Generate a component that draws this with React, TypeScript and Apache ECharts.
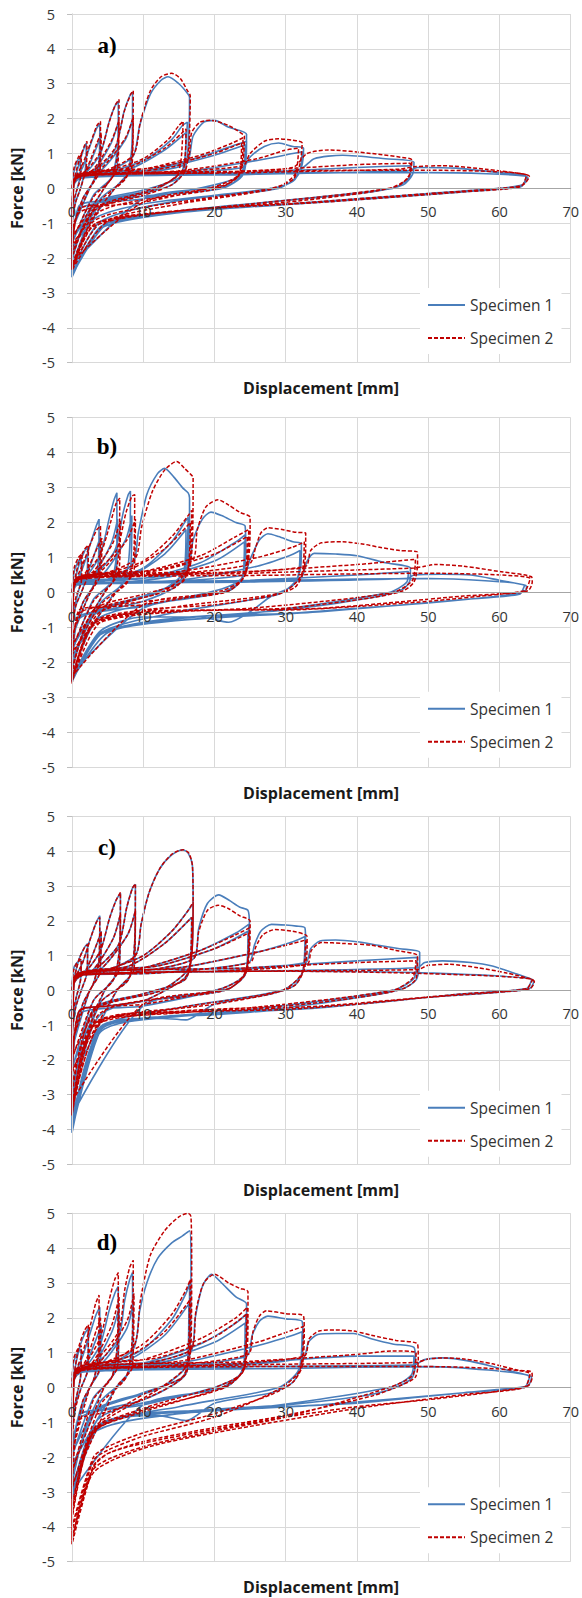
import React, { useEffect, useRef } from "react";
import * as echarts from "echarts";

const PANEL_LABELS = ["a)", "b)", "c)", "d)"];
const SERIES_NAMES = ["Specimen 1", "Specimen 2"];
const X_TITLE = "Displacement [mm]";
const Y_TITLE = "Force [kN]";

// Panel a) – Specimen 1
const A1: number[][] = [
  [0,0],[0.3,0.5],[0.8,0.8],[1.2,0.9],[1.1,0.3],[0.6,-0.1],[0,-0.6],
  [0.2,0.1],[1,0.7],[1.6,1.1],[2,1.3],[1.9,0.6],[1.2,0],[0.5,-0.4],[0,-1.0],
  [0.2,0.1],[1.5,0.6],[2.5,1.2],[3.4,1.7],[3.9,1.85],[3.8,0.8],[3,0.2],[1.5,-0.3],[0,-1.3],
  [0.3,0.1],[2,0.5],[3.5,1.2],[4,1.5],[3.8,0.5],[2.5,0],[0,-1.2],
  [0.3,0.15],[2,0.45],[4,1.0],[5.2,1.9],[6,2.35],[6.5,2.5],[6.4,1.2],[5.5,0.3],[3,-0.2],[0,-1.6],
  [0.3,0.15],[3,0.5],[5.5,1.3],[6.5,1.9],[6.3,0.6],[4.5,0],[0,-1.5],
  [0.3,0.2],[3,0.45],[6,1.1],[7.3,2.2],[8.2,2.7],[8.5,2.75],[8.4,1.2],[7.5,0.3],[4,-0.3],[0,-1.8],
  [0.3,0.2],[4,0.5],[7.5,1.4],[8.5,2.0],[8.3,0.6],[6,0],[0,-1.7],
  [0.3,0.2],[4,0.4],[8.5,0.9],[9.5,1.8],[11,2.7],[12.5,3.1],[13.5,3.2],[15,3.0],[16.3,2.7],[16.5,2.6],[16.3,1.2],[15.8,0.5],[14,0.1],[10,-0.15],[5,-0.35],[1,-0.5],[0,-2.0],
  [0.3,0.2],[5,0.45],[10,0.8],[14,1.4],[15.5,1.8],[16.2,1.9],[15.8,0.8],[15,0.3],[10,-0.05],[3,-0.45],[0,-2.0],
  [0.3,0.2],[8,0.55],[13,1.1],[16,1.6],[15.7,0.6],[12,0],[3,-0.5],[0,-2.1],
  [0.4,0.25],[8,0.4],[16,0.7],[17,1.5],[18.5,1.9],[20,1.95],[22,1.75],[24.5,1.55],[24.3,0.8],[23.5,0.35],[20,0.1],[10,-0.3],[1,-0.6],[0,-2.2],
  [0.4,0.25],[10,0.5],[18,0.9],[23,1.25],[24.5,1.35],[24.2,0.5],[22,0.1],[10,-0.3],[0,-2.2],
  [0.4,0.25],[12,0.55],[20,0.95],[24.3,1.25],[24,0.4],[21,0],[4,-0.5],[0,-2.3],
  [0.4,0.25],[12,0.4],[24,0.6],[25,0.9],[27,1.2],[29,1.3],[31,1.2],[32.5,1.15],[32.2,0.6],[31,0.2],[28,0],[20,-0.2],[10,-0.45],[3,-0.9],[0,-2.4],
  [0.4,0.25],[15,0.45],[26,0.8],[31,1.0],[32.3,1.05],[31.8,0.4],[29,0],[15,-0.35],[4,-0.95],[0,-2.4],
  [0.4,0.25],[20,0.4],[32,0.55],[34,0.85],[38,0.95],[44,0.85],[48,0.75],[47.8,0.4],[46.5,0.1],[42,-0.1],[30,-0.35],[15,-0.65],[5,-1.0],[0,-2.5],
  [0.4,0.25],[25,0.45],[40,0.6],[47.6,0.65],[47.3,0.3],[45,0],[25,-0.45],[8,-0.85],[4,-1.1],[0,-2.5],
  [0.4,0.25],[25,0.4],[47,0.5],[48.5,0.6],[54,0.58],[60,0.45],[63.5,0.38],[64,0.3],[63.2,0.1],[60,0.0],[50,-0.15],[40,-0.3],[30,-0.45],[20,-0.6],[10,-0.8],[4,-1.1],[0,-2.55],
  [0.4,0.25],[30,0.45],[50,0.45],[63.8,0.32],[63,0.05],[55,-0.1],[35,-0.4],[15,-0.7],[4,-1.15],[0,-2.5]
];

// Panel a) – Specimen 2
const A2: number[][] = [
  [0,0],[0.3,0.6],[0.9,0.9],[1.3,1.0],[1.2,0.3],[0.6,-0.1],[0,-0.5],
  [0.2,0.15],[1,0.8],[1.7,1.2],[2.1,1.35],[2,0.6],[1.2,0],[0.5,-0.4],[0,-0.9],
  [0.2,0.15],[1.5,0.7],[2.6,1.3],[3.5,1.8],[4,1.92],[3.9,0.8],[3,0.2],[1.5,-0.3],[0,-1.2],
  [0.3,0.15],[2,0.55],[3.5,1.3],[4.1,1.6],[3.9,0.5],[2.5,0],[0,-1.1],
  [0.3,0.2],[2,0.5],[4,1.05],[5.3,1.95],[6.1,2.4],[6.6,2.55],[6.5,1.2],[5.6,0.3],[3,-0.25],[0,-1.5],
  [0.3,0.2],[3,0.55],[5.5,1.35],[6.6,1.95],[6.4,0.6],[4.5,0],[0,-1.4],
  [0.3,0.2],[3,0.5],[6,1.15],[7.4,2.25],[8.3,2.72],[8.6,2.8],[8.5,1.2],[7.6,0.3],[4,-0.35],[0,-1.7],
  [0.3,0.2],[4,0.55],[7.5,1.45],[8.6,2.05],[8.4,0.6],[6,0],[0,-1.6],
  [0.3,0.25],[4,0.45],[8.6,0.95],[9.6,1.9],[11,2.8],[12.5,3.2],[14,3.3],[15.2,3.15],[16.2,2.8],[16.6,2.65],[16.4,1.2],[15.9,0.5],[14,0.1],[10,-0.2],[5,-0.45],[1,-0.6],[0,-1.9],
  [0.3,0.25],[5,0.5],[10,0.85],[13.5,1.4],[15,1.8],[15.6,1.92],[15.3,0.8],[14.5,0.3],[10,-0.1],[3,-0.6],[0,-1.9],
  [0.3,0.25],[8,0.6],[13,1.15],[16,1.7],[15.7,0.6],[12,0],[3,-0.65],[0,-2.0],
  [0.4,0.3],[8,0.45],[16,0.75],[16.8,1.6],[18,1.9],[19.5,1.95],[22,1.8],[24,1.55],[24.2,1.5],[24,0.8],[23.2,0.35],[20,0.05],[10,-0.4],[1,-0.7],[0,-2.1],
  [0.4,0.3],[10,0.55],[18,0.95],[22.5,1.3],[24,1.45],[23.8,0.5],[21.5,0.1],[10,-0.4],[0,-2.1],
  [0.4,0.3],[12,0.6],[20,1.0],[23.8,1.3],[23.5,0.4],[20.5,0],[4,-0.65],[0,-2.2],
  [0.4,0.3],[12,0.45],[24,0.65],[25,1.0],[27,1.35],[29,1.42],[31,1.38],[32.3,1.3],[32,0.7],[31,0.25],[28,0.0],[20,-0.25],[10,-0.55],[3,-0.95],[0,-2.3],
  [0.4,0.3],[15,0.5],[26,0.85],[30,1.1],[31.8,1.15],[31.3,0.4],[28.5,0],[15,-0.45],[4,-1.0],[0,-2.3],
  [0.4,0.3],[20,0.45],[31,0.6],[33,1.0],[36,1.1],[42,1.0],[47.5,0.85],[47.7,0.8],[47.4,0.4],[46,0.1],[42,-0.1],[30,-0.4],[15,-0.65],[5,-0.95],[0,-2.35],
  [0.4,0.3],[25,0.5],[40,0.68],[47.5,0.72],[47.2,0.3],[44.5,0],[25,-0.45],[8,-0.8],[3,-1.05],[0,-2.3],
  [0.4,0.3],[25,0.45],[46,0.55],[48,0.62],[52,0.65],[58,0.55],[63,0.42],[64.2,0.35],[63.3,0.1],[60,0.0],[50,-0.15],[40,-0.3],[30,-0.45],[20,-0.55],[10,-0.75],[3,-1.05],[0,-2.35],
  [0.4,0.3],[30,0.5],[50,0.52],[63.8,0.38],[63,0.05],[55,-0.1],[35,-0.4],[15,-0.65],[3,-1.1],[0,-2.3]
];

// Panel b) – Specimen 1
const B1: number[][] = [
  [0,0],[0.3,0.6],[0.9,0.9],[1.3,1.0],[1.2,0.3],[0.6,-0.2],[0,-0.7],
  [0.2,0.1],[1,0.8],[1.8,1.2],[2.2,1.3],[2.1,0.5],[1.3,0],[0.5,-0.4],[0,-1.1],
  [0.2,0.1],[1.5,0.7],[2.6,1.4],[3.4,1.9],[3.8,2.1],[3.7,0.9],[3,0.2],[1.5,-0.3],[0,-1.4],
  [0.3,0.1],[2,0.5],[3.5,1.3],[4,1.6],[3.8,0.5],[2.5,0],[0,-1.3],
  [0.3,0.15],[2,0.45],[4,1.1],[5.2,2.1],[5.9,2.65],[6.3,2.85],[6.3,1.3],[5.5,0.3],[3,-0.2],[0,-1.7],
  [0.3,0.15],[3,0.5],[5.5,1.4],[6.4,2.1],[6.2,0.6],[4.5,0],[0,-1.6],
  [0.3,0.2],[3,0.45],[6,1.2],[7.2,2.3],[7.9,2.8],[8.2,2.9],[8.1,1.3],[7.3,0.3],[4,-0.3],[0,-1.9],
  [0.3,0.2],[4,0.45],[7.5,1.5],[8.4,2.2],[8.2,0.6],[6,0],[0,-1.8],
  [0.3,0.2],[4,0.3],[8.5,0.8],[9.3,1.7],[10.5,2.8],[12,3.4],[13,3.55],[14.3,3.3],[15.5,3.0],[16.3,2.85],[16.5,2.7],[16.4,1.2],[15.9,0.5],[14,0.1],[10,-0.25],[5,-0.5],[1,-0.7],[0,-2.1],
  [0.3,0.2],[5,0.35],[10,0.7],[14,1.45],[15.8,2.0],[16.3,2.15],[16,0.8],[15,0.3],[10,-0.1],[3,-0.6],[0,-2.1],
  [0.3,0.2],[8,0.45],[13,1.1],[16,1.8],[15.7,0.6],[12,0],[3,-0.65],[0,-2.2],
  [0.4,0.2],[8,0.3],[16,0.6],[17,1.5],[18.3,2.1],[19.5,2.3],[21,2.2],[23,2.0],[24.3,1.9],[24.4,1.2],[23.8,0.4],[21,0.1],[10,-0.4],[1,-0.75],[0,-2.3],
  [0.4,0.2],[10,0.4],[18,0.85],[23,1.45],[24.3,1.65],[24.1,0.5],[22,0.05],[10,-0.45],[0,-2.3],
  [0.4,0.2],[12,0.45],[20,0.9],[24.2,1.45],[23.9,0.4],[21,0],[4,-0.7],[0,-2.4],
  [0.4,0.2],[12,0.3],[24,0.5],[25,0.95],[26.3,1.5],[27.5,1.68],[29,1.6],[31,1.45],[32.2,1.4],[32.1,0.7],[31,0.2],[28,-0.1],[25,-0.55],[22,-0.85],[18,-0.7],[10,-0.7],[4,-1.1],[0,-2.45],
  [0.4,0.2],[15,0.35],[26,0.75],[30.5,1.05],[32,1.2],[31.6,0.4],[29,-0.05],[15,-0.55],[4,-1.15],[0,-2.45],
  [0.4,0.2],[20,0.3],[32,0.4],[33,0.9],[34,1.12],[37,1.1],[40,1.05],[44,0.85],[47.5,0.7],[47.5,0.4],[46.5,0.1],[42,-0.15],[30,-0.5],[15,-0.75],[5,-1.15],[0,-2.5],
  [0.4,0.2],[25,0.35],[40,0.5],[47.2,0.6],[47,0.3],[44.5,0],[25,-0.6],[8,-0.95],[4,-1.2],[0,-2.5],
  [0.4,0.2],[25,0.3],[47,0.4],[48,0.5],[52,0.52],[56,0.5],[60,0.35],[63.7,0.2],[63.8,0.1],[63,0.0],[60,-0.1],[50,-0.3],[40,-0.45],[30,-0.6],[20,-0.65],[10,-0.85],[4,-1.2],[0,-2.55],
  [0.4,0.2],[30,0.35],[50,0.4],[63.5,0.2],[62.8,-0.05],[55,-0.2],[35,-0.55],[15,-0.8],[4,-1.2],[0,-2.5]
];

// Panel b) – Specimen 2
const B2: number[][] = [
  [0,0],[0.3,0.7],[0.9,1.0],[1.4,1.1],[1.3,0.3],[0.6,-0.1],[0,-0.6],
  [0.2,0.15],[1,0.9],[1.8,1.25],[2.3,1.35],[2.2,0.5],[1.3,0],[0.5,-0.4],[0,-1.0],
  [0.2,0.15],[1.5,0.8],[2.6,1.4],[3.5,1.8],[4,1.9],[3.9,0.8],[3.1,0.2],[1.5,-0.3],[0,-1.3],
  [0.3,0.15],[2,0.6],[3.6,1.3],[4.2,1.55],[4,0.5],[2.6,0],[0,-1.2],
  [0.3,0.2],[2,0.55],[4,1.1],[5.4,2.0],[6.2,2.55],[6.7,2.7],[6.6,1.2],[5.7,0.3],[3,-0.25],[0,-1.6],
  [0.3,0.2],[3,0.6],[5.7,1.4],[6.8,2.05],[6.6,0.6],[4.6,0],[0,-1.5],
  [0.3,0.25],[3,0.55],[6.2,1.2],[7.6,2.3],[8.4,2.75],[8.8,2.8],[8.7,1.2],[7.8,0.3],[4,-0.35],[0,-1.8],
  [0.3,0.25],[4,0.6],[7.7,1.5],[8.9,2.1],[8.7,0.6],[6.2,0],[0,-1.7],
  [0.3,0.3],[4,0.5],[8.8,0.95],[9.8,1.9],[11.3,2.9],[13,3.5],[14.7,3.75],[15.8,3.55],[16.8,3.35],[17,3.3],[16.9,1.5],[16.4,0.6],[14.5,0.15],[10,-0.15],[5,-0.4],[1,-0.5],[0,-2.2],
  [0.3,0.3],[5,0.55],[10,0.9],[14,1.6],[16.3,2.2],[16.8,2.35],[16.5,0.9],[15.5,0.3],[10,-0.05],[3,-0.5],[0,-2.2],
  [0.3,0.3],[8,0.65],[13,1.25],[16.6,2.0],[16.3,0.7],[12.5,0],[3,-0.55],[0,-2.3],
  [0.4,0.35],[8,0.5],[16.8,0.9],[17.6,1.8],[18.8,2.45],[20.5,2.65],[22,2.5],[23.5,2.3],[25,2.15],[25,1.8],[24.8,1.0],[24,0.4],[21,0.05],[10,-0.35],[1,-0.6],[0,-2.4],
  [0.4,0.35],[10,0.6],[18,1.05],[23,1.6],[24.8,1.8],[24.5,0.6],[22,0.05],[10,-0.35],[0,-2.4],
  [0.4,0.35],[12,0.65],[20,1.1],[24.6,1.6],[24.3,0.5],[21.5,0],[4,-0.55],[0,-2.45],
  [0.4,0.35],[12,0.5],[24.8,0.8],[25.8,1.3],[26.5,1.7],[27.5,1.85],[29.5,1.8],[31.5,1.72],[32.8,1.7],[32.8,1.3],[32.5,0.6],[31.3,0.15],[28,-0.1],[20,-0.35],[10,-0.5],[3,-0.85],[0,-2.5],
  [0.4,0.35],[15,0.6],[26,1.0],[31,1.3],[32.6,1.45],[32.2,0.5],[29.5,0],[15,-0.4],[3,-0.9],[0,-2.5],
  [0.4,0.35],[20,0.55],[32.8,0.75],[33.5,1.2],[35,1.42],[38,1.45],[41,1.38],[43,1.3],[46,1.2],[48.5,1.15],[48.5,0.8],[48,0.3],[46.5,0.05],[42,-0.15],[30,-0.45],[15,-0.55],[4,-0.85],[0,-2.55],
  [0.4,0.35],[25,0.6],[40,0.8],[48.2,0.95],[47.8,0.35],[45,0],[25,-0.45],[8,-0.6],[3,-0.9],[0,-2.55],
  [0.4,0.35],[25,0.55],[48,0.7],[49.5,0.75],[51,0.8],[55,0.75],[60,0.6],[64.5,0.45],[64.6,0.3],[64,0.05],[60,-0.05],[50,-0.25],[40,-0.4],[30,-0.5],[20,-0.5],[10,-0.55],[3,-0.9],[0,-2.6],
  [0.4,0.35],[30,0.5],[50,0.55],[64.3,0.4],[63.5,0.05],[55,-0.1],[35,-0.45],[15,-0.55],[3,-0.95],[0,-2.55]
];

// Panel c) – Specimen 1
const C1: number[][] = [
  [0,0],[0.2,0.6],[0.7,0.8],[1.3,0.85],[1.2,0.3],[0.6,-0.2],[0,-0.8],
  [0.2,0.2],[1,0.9],[1.8,1.25],[2.2,1.35],[2.1,0.5],[1.3,0],[0.5,-0.5],[0,-1.3],
  [0.2,0.2],[1.5,0.8],[2.6,1.5],[3.4,1.95],[3.9,2.15],[3.8,0.9],[3,0.2],[1.5,-0.4],[0,-1.8],
  [0.3,0.2],[2,0.6],[3.6,1.4],[4.1,1.7],[3.9,0.5],[2.5,0],[0,-1.7],
  [0.3,0.25],[2,0.55],[4,1.15],[5.3,2.1],[6.2,2.6],[6.8,2.8],[6.7,1.3],[5.8,0.3],[3,-0.3],[0,-2.3],
  [0.3,0.25],[3,0.6],[5.8,1.5],[6.8,2.2],[6.6,0.6],[4.6,0],[0,-2.2],
  [0.3,0.3],[3,0.55],[6.5,1.3],[7.7,2.4],[8.5,2.95],[8.9,3.05],[8.8,1.4],[7.9,0.3],[4,-0.35],[0,-2.7],
  [0.3,0.3],[4,0.6],[7.8,1.6],[8.9,2.3],[8.7,0.6],[6.3,0],[0,-2.6],
  [0.3,0.35],[4,0.5],[8.9,1.0],[9.7,1.9],[10.8,2.8],[12.3,3.5],[14,3.9],[15.5,4.05],[16.3,3.95],[16.9,3.6],[17,2.5],[16.8,1.0],[16,0.4],[14,0.1],[10,-0.3],[5,-0.45],[1,-0.6],[0,-3.0],
  [0.3,0.35],[5,0.6],[10,1.0],[14,1.7],[16.3,2.3],[17,2.5],[16.8,1.0],[15.8,0.3],[10,-0.1],[3,-0.55],[0,-3.1],
  [0.3,0.35],[8,0.7],[13,1.35],[16.8,2.1],[16.5,0.7],[12.5,0],[3,-0.6],[0,-3.3],
  [0.4,0.4],[8,0.5],[17,0.9],[17.8,1.8],[19,2.5],[20.6,2.75],[22,2.6],[23.5,2.4],[24.7,2.3],[24.9,1.9],[24.8,1.0],[24,0.4],[21,0.05],[10,-0.45],[1,-0.7],[0,-3.5],
  [0.4,0.4],[10,0.65],[18,1.15],[23,1.65],[24.8,1.9],[24.6,0.6],[22,0.05],[10,-0.45],[0,-3.6],
  [0.4,0.4],[12,0.7],[20,1.2],[24.7,1.7],[24.4,0.5],[21.5,0],[4,-0.7],[0,-3.7],
  [0.4,0.4],[12,0.5],[24.8,0.8],[25.6,1.3],[26.5,1.7],[28,1.9],[30,1.88],[31.5,1.85],[32.7,1.8],[32.8,1.3],[32.5,0.6],[31.3,0.15],[28,-0.1],[20,-0.4],[16,-0.85],[12,-0.8],[4,-1.05],[0,-3.8],
  [0.4,0.4],[15,0.65],[26,1.1],[31,1.4],[32.7,1.55],[32.3,0.5],[29.5,0],[15,-0.5],[4,-1.1],[0,-3.9],
  [0.4,0.4],[20,0.55],[32.8,0.8],[33.5,1.2],[34.8,1.42],[37,1.45],[40,1.4],[43,1.3],[46,1.2],[48.8,1.1],[48.8,0.8],[48.3,0.3],[46.5,0.05],[42,-0.15],[30,-0.5],[15,-0.75],[4,-1.1],[0,-4.0],
  [0.4,0.4],[25,0.65],[40,0.85],[48.5,0.95],[48,0.35],[45,0],[25,-0.55],[8,-0.85],[4,-1.15],[0,-4.05],
  [0.4,0.4],[25,0.55],[48.5,0.65],[49.5,0.8],[52,0.85],[56,0.8],[59,0.7],[62,0.5],[64.5,0.32],[64.8,0.25],[64.2,0.05],[60,-0.05],[50,-0.2],[40,-0.4],[30,-0.55],[20,-0.7],[10,-0.8],[4,-1.15],[0,-4.1],
  [0.4,0.4],[30,0.55],[50,0.5],[64.5,0.3],[63.8,0.05],[55,-0.1],[35,-0.5],[15,-0.75],[4,-1.2],[0,-4.0]
];

// Panel c) – Specimen 2
const C2: number[][] = [
  [0,0],[0.2,0.55],[0.7,0.8],[1.3,0.9],[1.2,0.3],[0.6,-0.2],[0,-0.7],
  [0.2,0.2],[1,0.9],[1.8,1.25],[2.2,1.32],[2.1,0.5],[1.3,0],[0.5,-0.5],[0,-1.2],
  [0.2,0.2],[1.5,0.8],[2.6,1.5],[3.4,1.95],[3.9,2.1],[3.8,0.9],[3,0.2],[1.5,-0.4],[0,-1.6],
  [0.3,0.2],[2,0.6],[3.6,1.4],[4.1,1.7],[3.9,0.5],[2.5,0],[0,-1.5],
  [0.3,0.25],[2,0.55],[4,1.15],[5.3,2.1],[6.2,2.6],[6.8,2.82],[6.7,1.3],[5.8,0.3],[3,-0.3],[0,-2.0],
  [0.3,0.25],[3,0.6],[5.8,1.5],[6.8,2.2],[6.6,0.6],[4.6,0],[0,-1.9],
  [0.3,0.3],[3,0.55],[6.5,1.3],[7.7,2.4],[8.5,2.95],[8.9,3.07],[8.8,1.4],[7.9,0.3],[4,-0.35],[0,-2.4],
  [0.3,0.3],[4,0.6],[7.8,1.6],[8.9,2.3],[8.7,0.6],[6.3,0],[0,-2.3],
  [0.3,0.35],[4,0.5],[8.9,1.0],[9.7,1.9],[10.8,2.8],[12.3,3.5],[14,3.92],[15.6,4.05],[16.4,3.95],[16.9,3.6],[17,2.5],[16.8,1.0],[16,0.4],[14,0.1],[10,-0.3],[5,-0.45],[1,-0.6],[0,-2.7],
  [0.3,0.35],[5,0.6],[10,1.0],[14,1.7],[16.3,2.3],[17,2.55],[16.8,1.0],[15.8,0.3],[10,-0.1],[3,-0.55],[0,-2.8],
  [0.3,0.35],[8,0.7],[13,1.35],[16.8,2.1],[16.5,0.7],[12.5,0],[3,-0.6],[0,-3.0],
  [0.4,0.4],[8,0.5],[17,0.9],[17.8,1.7],[19,2.3],[20.5,2.45],[22,2.35],[23.5,2.15],[25,2.0],[25,1.7],[24.8,1.0],[24,0.4],[21,0.05],[10,-0.4],[1,-0.6],[0,-3.1],
  [0.4,0.4],[10,0.65],[18,1.15],[23,1.6],[24.9,1.8],[24.6,0.6],[22,0.05],[10,-0.4],[0,-3.2],
  [0.4,0.4],[12,0.7],[20,1.2],[24.8,1.65],[24.4,0.5],[21.5,0],[4,-0.65],[0,-3.3],
  [0.4,0.4],[12,0.5],[25,0.8],[25.8,1.25],[26.8,1.6],[28.5,1.75],[31,1.7],[33,1.55],[33,1.2],[32.6,0.6],[31.3,0.15],[28,-0.1],[20,-0.4],[12,-0.6],[4,-0.9],[0,-3.4],
  [0.4,0.4],[15,0.65],[26,1.1],[31,1.35],[32.8,1.45],[32.3,0.5],[29.5,0],[15,-0.5],[4,-0.95],[0,-3.5],
  [0.4,0.4],[20,0.55],[33,0.75],[33.6,1.15],[35,1.38],[38,1.35],[42,1.3],[45.5,1.15],[48.5,1.0],[48.5,0.7],[48.2,0.3],[46.5,0.05],[42,-0.15],[30,-0.45],[15,-0.6],[3,-0.95],[0,-3.55],
  [0.4,0.4],[25,0.65],[40,0.8],[48.3,0.85],[47.8,0.35],[45,0],[25,-0.5],[8,-0.7],[3,-1.0],[0,-3.6],
  [0.4,0.4],[25,0.55],[48.5,0.6],[50,0.72],[53,0.75],[57,0.65],[61,0.5],[64.5,0.32],[64.9,0.25],[64.3,0.05],[60,-0.05],[50,-0.2],[40,-0.4],[30,-0.55],[20,-0.6],[10,-0.7],[3,-1.0],[0,-3.6],
  [0.4,0.4],[30,0.55],[50,0.48],[64.6,0.3],[63.8,0.05],[55,-0.1],[35,-0.45],[15,-0.65],[3,-1.05],[0,-3.5]
];

// Panel d) – Specimen 1
const D1: number[][] = [
  [0,0],[0.2,0.7],[0.8,1.0],[1.3,1.1],[1.2,0.3],[0.6,-0.3],[0,-0.9],
  [0.2,0.2],[1,1.1],[1.8,1.55],[2.3,1.7],[2.2,0.5],[1.3,0],[0.5,-0.5],[0,-1.3],
  [0.2,0.2],[1.5,0.9],[2.6,1.6],[3.4,2.1],[3.9,2.3],[3.8,0.9],[3,0.2],[1.5,-0.4],[0,-1.6],
  [0.3,0.2],[2,0.7],[3.6,1.5],[4.1,1.8],[3.9,0.5],[2.5,0],[0,-1.5],
  [0.3,0.25],[2,0.6],[4,1.25],[5.2,2.2],[6,2.7],[6.5,2.9],[6.4,1.3],[5.6,0.3],[3,-0.3],[0,-2.0],
  [0.3,0.25],[3,0.65],[5.6,1.6],[6.6,2.3],[6.4,0.6],[4.5,0],[0,-1.9],
  [0.3,0.3],[3,0.6],[6.5,1.4],[7.4,2.5],[8.1,3.1],[8.5,3.3],[8.5,1.5],[7.6,0.3],[4,-0.4],[0,-2.3],
  [0.3,0.3],[4,0.65],[7.7,1.7],[8.6,2.5],[8.4,0.6],[6.2,0],[0,-2.2],
  [0.3,0.35],[4,0.55],[8.6,1.1],[9.5,2.2],[10.5,3.0],[12,3.7],[14,4.15],[15.5,4.35],[16.5,4.5],[16.7,3.5],[16.6,1.2],[16,0.4],[14,0.05],[10,-0.35],[5,-0.6],[1,-0.8],[0,-2.6],
  [0.3,0.35],[5,0.65],[10,1.1],[14,1.95],[16,2.7],[16.5,3.0],[16.4,1.0],[15.5,0.3],[10,-0.15],[3,-0.7],[0,-2.7],
  [0.3,0.35],[8,0.8],[13,1.5],[16.4,2.4],[16.2,0.7],[12.5,0],[3,-0.75],[0,-2.8],
  [0.4,0.4],[8,0.55],[16.6,1.0],[17.3,2.0],[18.3,2.9],[19.6,3.25],[21,3.0],[23,2.6],[24.5,2.4],[24.5,1.8],[24.3,0.9],[23.5,0.35],[20,0.0],[10,-0.5],[1,-0.9],[0,-2.9],
  [0.4,0.4],[10,0.7],[18,1.25],[23,1.85],[24.4,2.1],[24.2,0.6],[21.5,0.0],[10,-0.5],[0,-3.0],
  [0.4,0.4],[12,0.75],[20,1.3],[24.3,1.85],[24,0.5],[21,0],[4,-0.85],[0,-3.0],
  [0.4,0.4],[12,0.55],[24.5,0.9],[25.3,1.5],[26.3,1.9],[27.5,2.05],[30,1.97],[32.3,1.9],[32.4,1.5],[32.1,0.6],[31,0.15],[28,-0.15],[20,-0.45],[16,-0.95],[12,-0.8],[4,-1.05],[0,-3.1],
  [0.4,0.4],[15,0.7],[26,1.2],[31,1.5],[32.3,1.6],[31.8,0.5],[29,0],[15,-0.55],[4,-1.1],[0,-3.1],
  [0.4,0.4],[20,0.6],[32.4,0.85],[33.2,1.3],[34.5,1.52],[37,1.55],[39.5,1.55],[42,1.4],[45,1.25],[48,1.15],[48.2,0.8],[47.8,0.3],[46,0.05],[42,-0.2],[30,-0.5],[15,-0.7],[4,-1.1],[0,-3.2],
  [0.4,0.4],[25,0.7],[40,0.9],[48,0.9],[47.6,0.35],[44.5,0],[25,-0.6],[8,-0.8],[3,-1.2],[0,-3.2],
  [0.4,0.4],[25,0.6],[48,0.65],[49.5,0.8],[52,0.85],[56,0.75],[60,0.55],[64,0.35],[64.5,0.3],[64,0.05],[60,-0.05],[50,-0.25],[40,-0.45],[30,-0.55],[20,-0.65],[10,-0.75],[3,-1.25],[0,-3.2],
  [0.4,0.4],[30,0.55],[50,0.6],[64.2,0.3],[63.5,0.0],[55,-0.15],[35,-0.5],[15,-0.75],[3,-1.3],[0,-3.1]
];

// Panel d) – Specimen 2
const D2: number[][] = [
  [0,0],[0.2,0.8],[0.8,1.1],[1.3,1.2],[1.2,0.3],[0.6,-0.3],[0,-1.0],
  [0.2,0.2],[1,1.2],[1.8,1.65],[2.3,1.8],[2.2,0.5],[1.3,0],[0.5,-0.6],[0,-1.5],
  [0.2,0.2],[1.5,1.0],[2.6,1.8],[3.3,2.4],[3.8,2.65],[3.7,1.0],[3,0.2],[1.5,-0.4],[0,-2.0],
  [0.3,0.2],[2,0.8],[3.5,1.7],[4,2.0],[3.8,0.5],[2.5,0],[0,-1.9],
  [0.3,0.25],[2,0.7],[4,1.45],[5.2,2.5],[6,3.1],[6.5,3.3],[6.4,1.4],[5.6,0.3],[3,-0.35],[0,-2.5],
  [0.3,0.25],[3,0.75],[5.6,1.8],[6.6,2.6],[6.4,0.6],[4.5,0],[0,-2.4],
  [0.3,0.3],[3,0.7],[6.5,1.6],[7.4,2.8],[8.1,3.45],[8.6,3.65],[8.5,1.6],[7.6,0.3],[4,-0.5],[0,-2.9],
  [0.3,0.3],[4,0.75],[7.7,1.9],[8.7,2.7],[8.5,0.6],[6.2,0],[0,-2.8],
  [0.3,0.35],[4,0.6],[8.7,1.2],[9.6,2.5],[11,3.8],[13,4.5],[15,4.9],[16.3,5.0],[16.7,4.9],[16.8,3.5],[16.7,1.2],[16,0.4],[14,0.05],[10,-0.35],[5,-0.7],[1,-0.95],[0,-3.3],
  [0.3,0.35],[5,0.75],[10,1.25],[14,2.1],[16,2.8],[16.6,3.1],[16.5,1.0],[15.5,0.3],[10,-0.2],[3,-1.2],[0,-3.4],
  [0.3,0.35],[8,0.9],[13,1.6],[16.5,2.5],[16.2,0.7],[12.5,0],[3,-1.25],[0,-3.5],
  [0.4,0.45],[8,0.6],[16.7,1.1],[17.4,2.2],[18.5,3.0],[20,3.25],[22,3.0],[23.5,2.85],[24.7,2.75],[24.7,2.0],[24.5,0.9],[23.5,0.35],[20,0.0],[10,-0.6],[3,-1.25],[0,-3.6],
  [0.4,0.45],[10,0.8],[18,1.4],[23,2.0],[24.6,2.3],[24.3,0.6],[21.5,0.0],[10,-0.65],[3,-1.3],[0,-3.7],
  [0.4,0.45],[12,0.85],[20,1.45],[24.5,2.1],[24.1,0.5],[21,0],[10,-0.7],[3,-1.3],[0,-3.8],
  [0.4,0.45],[12,0.6],[24.7,0.95],[25.4,1.6],[26.3,2.05],[27.3,2.2],[30,2.12],[32.5,2.05],[32.6,1.6],[32.3,0.6],[31,0.15],[28,-0.2],[20,-0.75],[10,-1.3],[5,-1.7],[3,-2.0],[0,-4.0],
  [0.4,0.45],[15,0.75],[26,1.3],[31,1.65],[32.5,1.75],[32,0.5],[29,-0.05],[20,-0.85],[10,-1.4],[5,-1.8],[3,-2.1],[0,-4.1],
  [0.4,0.45],[20,0.65],[32.6,0.9],[33.3,1.4],[34.8,1.63],[37,1.65],[39.5,1.62],[42,1.5],[45.5,1.35],[48.5,1.25],[48.6,0.85],[48.2,0.3],[46,0.05],[42,-0.25],[30,-0.8],[20,-1.15],[10,-1.55],[5,-1.9],[3,-2.25],[0,-4.3],
  [0.4,0.45],[25,0.75],[40,0.95],[45,1.05],[48.3,1.0],[47.8,0.35],[44.5,0],[30,-0.85],[20,-1.25],[10,-1.7],[3,-2.35],[0,-4.4],
  [0.4,0.45],[25,0.65],[48.3,0.72],[50,0.82],[52,0.85],[55,0.82],[59,0.68],[62.5,0.5],[64.5,0.45],[64.6,0.3],[64,0.05],[60,-0.1],[50,-0.35],[40,-0.55],[30,-0.85],[20,-1.2],[10,-1.6],[5,-1.9],[3,-2.3],[0,-4.5],
  [0.4,0.45],[30,0.6],[50,0.6],[64.3,0.4],[63.5,0.0],[55,-0.2],[40,-0.6],[20,-1.3],[10,-1.75],[3,-2.45],[0,-4.4]
];

const PANEL_DATA = [
  [A1, A2],
  [B1, B2],
  [C1, C2],
  [D1, D2],
];

export default function App() {
  const ref = useRef<HTMLDivElement>(null);

  useEffect(() => {
    if (!ref.current) return;
    const chart = echarts.init(ref.current, null, { renderer: "svg" });

    const tops = [14, 417.7, 816.7, 1213.3];
    const heights = [348.7, 349.6, 347.3, 348.4];
    const labelOffsets = [31, 29, 31, 29];
    const left = 72;
    const width = 499;
    const font = "'Open Sans', 'Liberation Sans', sans-serif";
    const textColor = "#333333";

    const grids = tops.map((t, i) => ({ left, top: t, width, height: heights[i] }));

    // x axis sits on the zero line (middle of the -5..5 range)
    const xAxes = tops.map((_, i) => ({
      gridIndex: i,
      type: "value",
      position: "bottom",
      offset: -heights[i] / 2,
      min: 0,
      max: 70,
      interval: 10,
      z: 3,
      axisLine: { show: true, onZero: false, lineStyle: { color: "#a6a6a6", width: 1 } },
      axisTick: { show: false },
      axisLabel: { margin: 16, fontSize: 14.5, color: textColor, fontFamily: font },
      splitLine: { show: true, lineStyle: { color: "#d9d9d9", width: 1 } },
    }));

    const yAxes = tops.map((_, i) => ({
      gridIndex: i,
      type: "value",
      min: -5,
      max: 5,
      interval: 1,
      axisLine: { show: true, onZero: false, lineStyle: { color: "#bfbfbf", width: 1 } },
      axisTick: { show: true, length: 5, lineStyle: { color: "#bfbfbf" } },
      axisLabel: { margin: 17, fontSize: 14.5, color: textColor, fontFamily: font },
      splitLine: { show: true, lineStyle: { color: "#d9d9d9", width: 1 } },
    }));

    const series: any[] = [];
    PANEL_DATA.forEach((pair, i) => {
      series.push({
        name: SERIES_NAMES[0],
        type: "line",
        xAxisIndex: i,
        yAxisIndex: i,
        data: pair[0],
        symbol: "none",
        smooth: 0.25,
        z: 2,
        lineStyle: { color: "#4a7ebb", width: 1.6 },
        itemStyle: { color: "#4a7ebb" },
      });
    });
    PANEL_DATA.forEach((pair, i) => {
      series.push({
        name: SERIES_NAMES[1],
        type: "line",
        xAxisIndex: i,
        yAxisIndex: i,
        data: pair[1],
        symbol: "none",
        smooth: 0.25,
        z: 2,
        lineStyle: { color: "#c00000", width: 1.5, type: [4, 2] },
        itemStyle: { color: "#c00000" },
      });
    });

    const legends = tops.map((t) => ({
      orient: "vertical",
      left: 420,
      top: t + 274,
      itemWidth: 37,
      itemHeight: 14,
      itemGap: 17,
      padding: [9, 8, 8, 7],
      backgroundColor: "#ffffff",
      selectedMode: false,
      itemStyle: { opacity: 0, borderWidth: 0 },
      textStyle: { fontSize: 15.5, fontFamily: font, color: textColor },
      data: SERIES_NAMES,
    }));

    const graphics: any[] = [];
    tops.forEach((t, i) => {
      const mid = t + heights[i] / 2;
      graphics.push({
        type: "text",
        x: 17,
        y: mid,
        rotation: Math.PI / 2,
        style: {
          text: Y_TITLE,
          fontSize: 16,
          fontWeight: "bold",
          fontFamily: font,
          fill: "#1a1a1a",
          align: "center",
          verticalAlign: "middle",
        },
      });
      graphics.push({
        type: "text",
        x: 321,
        y: t + heights[i] + 25.5,
        style: {
          text: X_TITLE,
          fontSize: 16,
          fontWeight: "bold",
          fontFamily: font,
          fill: "#1a1a1a",
          align: "center",
          verticalAlign: "middle",
        },
      });
      graphics.push({
        type: "text",
        x: 107,
        y: t + labelOffsets[i],
        z: 10,
        style: {
          text: PANEL_LABELS[i],
          fontSize: 23,
          fontWeight: "bold",
          fontFamily: "'Liberation Serif', 'DejaVu Serif', serif",
          fill: "#000000",
          align: "center",
          verticalAlign: "middle",
        },
      });
    });

    chart.setOption({
      animation: false,
      backgroundColor: "#ffffff",
      grid: grids,
      xAxis: xAxes,
      yAxis: yAxes,
      legend: legends,
      series,
      graphic: graphics,
    });

    return () => chart.dispose();
  }, []);

  return (
    <div
      ref={ref}
      style={{ position: "absolute", left: 0, top: 0, width: 582, height: 1598 }}
    />
  );
}
